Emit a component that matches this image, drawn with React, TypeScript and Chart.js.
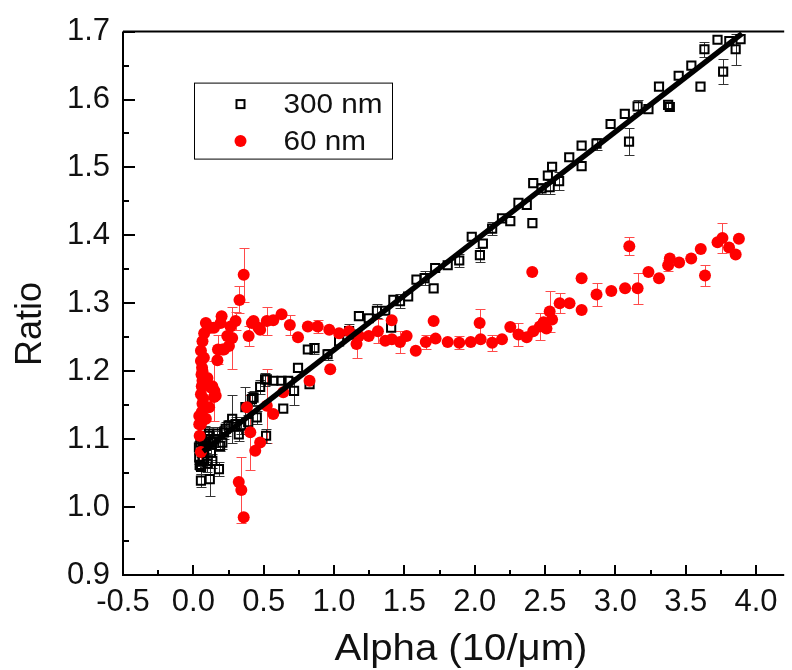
import React, { useEffect, useRef } from 'react';
import { Chart, registerables } from 'chart.js';

Chart.register(...registerables);

// ---------- Axis ticks ----------
const xTicks = [-0.5, 0, 0.5, 1.0, 1.5, 2.0, 2.5, 3.0, 3.5, 4.0];
const xTickLabels = ['-0.5', '0.0', '0.5', '1.0', '1.5', '2.0', '2.5', '3.0', '3.5', '4.0'];
const xMinorTicks = [-0.25, 0.25, 0.75, 1.25, 1.75, 2.25, 2.75, 3.25, 3.75];
const yTicks = [0.9, 1.0, 1.1, 1.2, 1.3, 1.4, 1.5, 1.6, 1.7];
const yTickLabels = ['0.9', '1.0', '1.1', '1.2', '1.3', '1.4', '1.5', '1.6', '1.7'];
const yMinorTicks = [0.95, 1.05, 1.15, 1.25, 1.35, 1.45, 1.55, 1.65];

// ---------- 300 nm (open squares) ----------
const s300X = [
  0.04, 0.042, 0.045, 0.05, 0.054, 0.055, 0.06, 0.065, 0.065, 0.07,
  0.077, 0.085, 0.089, 0.1, 0.105, 0.112, 0.117, 0.125, 0.135, 0.135,
  0.15, 0.171, 0.182, 0.19, 0.206, 0.218, 0.23, 0.25, 0.276, 0.3,
  0.323, 0.34, 0.37, 0.39, 0.416, 0.428, 0.451, 0.475, 0.51, 0.517,
  0.522, 0.568, 0.627, 0.639, 0.674, 0.716, 0.744, 0.814, 0.826, 0.861,
  0.954, 1.036, 1.107, 1.153, 1.177, 1.247, 1.305, 1.364, 1.406, 1.422,
  1.469, 1.527, 1.586, 1.644, 1.708, 1.719, 1.808, 1.89, 1.979, 2.037,
  2.058, 2.124, 2.194, 2.253, 2.311, 2.37, 2.41, 2.416, 2.475, 2.52,
  2.533, 2.55, 2.6, 2.672, 2.76, 2.76, 2.866, 2.966, 3.067, 3.097,
  3.158, 3.235, 3.31, 3.375, 3.387, 3.45, 3.54, 3.605, 3.633, 3.726,
  3.766, 3.81, 3.855, 3.89
];
const s300Y = [
  1.088, 1.073, 1.062, 1.095, 1.039, 1.059, 1.080, 1.098, 1.068, 1.085,
  1.083, 1.100, 1.090, 1.064, 1.105, 1.108, 1.041, 1.080, 1.095, 1.068,
  1.100, 1.108, 1.056, 1.090, 1.095, 1.110, 1.115, 1.120, 1.130, 1.122,
  1.107, 1.120, 1.147, 1.125, 1.159, 1.161, 1.132, 1.177, 1.188, 1.105,
  1.188, 1.186, 1.186, 1.145, 1.186, 1.171, 1.205, 1.232, 1.181, 1.234,
  1.225, 1.244, 1.259, 1.254, 1.281, 1.278, 1.289, 1.289, 1.264, 1.305,
  1.303, 1.310, 1.335, 1.337, 1.322, 1.352, 1.356, 1.363, 1.398, 1.371,
  1.388, 1.410, 1.425, 1.421, 1.448, 1.445, 1.418, 1.477, 1.469, 1.488,
  1.471, 1.501, 1.480, 1.515, 1.532, 1.502, 1.535, 1.564, 1.579, 1.538,
  1.590, 1.586, 1.619, 1.592, 1.589, 1.635, 1.650, 1.619, 1.674, 1.688,
  1.641, 1.686, 1.674, 1.689
];
const s300Err = [
  0.010, 0.010, 0.008, 0.010, 0.010, 0.010, 0.012, 0.010, 0.008, 0.010,
  0.010, 0.020, 0.010, 0.012, 0.010, 0.010, 0.025, 0.010, 0.010, 0.010,
  0.012, 0.010, 0.010, 0.008, 0.010, 0.010, 0.010, 0.008, 0.035, 0.010,
  0.010, 0.012, 0.030, 0.010, 0.010, 0.010, 0.010, 0.010, 0.010, 0.010,
  0.000, 0.000, 0.000, 0.000, 0.000, 0.020, 0.000, 0.000, 0.000, 0.008,
  0.008, 0.000, 0.010, 0.000, 0.000, 0.000, 0.010, 0.000, 0.000, 0.000,
  0.010, 0.000, 0.000, 0.010, 0.000, 0.000, 0.000, 0.010, 0.000, 0.010,
  0.000, 0.010, 0.000, 0.000, 0.000, 0.000, 0.000, 0.000, 0.008, 0.000,
  0.010, 0.000, 0.013, 0.000, 0.000, 0.000, 0.009, 0.000, 0.000, 0.020,
  0.010, 0.000, 0.000, 0.005, 0.000, 0.000, 0.000, 0.000, 0.011, 0.000,
  0.018, 0.000, 0.023, 0.000
];

// ---------- 60 nm (filled circles) ----------
const s60X = [
  0.042, 0.042, 0.045, 0.054, 0.054, 0.054, 0.054, 0.054, 0.058, 0.06,
  0.06, 0.062, 0.065, 0.065, 0.065, 0.065, 0.07, 0.075, 0.077, 0.08,
  0.089, 0.089, 0.1, 0.112, 0.124, 0.124, 0.135, 0.147, 0.147, 0.15,
  0.159, 0.171, 0.175, 0.194, 0.201, 0.206, 0.218, 0.241, 0.253, 0.265,
  0.276, 0.3, 0.323, 0.328, 0.341, 0.358, 0.358, 0.381, 0.393, 0.405,
  0.416, 0.428, 0.44, 0.463, 0.475, 0.475, 0.522, 0.522, 0.568, 0.568,
  0.627, 0.639, 0.686, 0.744, 0.814, 0.826, 0.884, 0.966, 0.973, 1.036,
  1.107, 1.16, 1.177, 1.247, 1.312, 1.364, 1.41, 1.411, 1.469, 1.516,
  1.581, 1.652, 1.708, 1.722, 1.808, 1.89, 1.972, 2.035, 2.042, 2.124,
  2.194, 2.253, 2.311, 2.37, 2.409, 2.416, 2.463, 2.49, 2.51, 2.533,
  2.55, 2.604, 2.674, 2.76, 2.76, 2.866, 2.971, 3.069, 3.099, 3.158,
  3.235, 3.31, 3.375, 3.387, 3.453, 3.539, 3.607, 3.637, 3.726, 3.761,
  3.808, 3.855, 3.878
];
const s60Y = [
  1.134, 1.122, 1.105, 1.081, 1.122, 1.166, 1.215, 1.230, 1.195, 1.140,
  1.178, 1.205, 1.244, 1.200, 1.186, 1.152, 1.160, 1.220, 1.256, 1.130,
  1.271, 1.130, 1.190, 1.147, 1.176, 1.264, 1.178, 1.162, 1.264, 1.171,
  1.164, 1.216, 1.232, 1.271, 1.281, 1.232, 1.232, 1.252, 1.237, 1.266,
  1.249, 1.274, 1.037, 1.305, 1.025, 1.342, 0.985, 1.147, 1.252, 1.110,
  1.271, 1.274, 1.083, 1.264, 1.095, 1.261, 1.149, 1.274, 1.137, 1.275,
  1.284, 1.169, 1.268, 1.250, 1.266, 1.186, 1.266, 1.261, 1.203, 1.256,
  1.259, 1.240, 1.252, 1.252, 1.259, 1.245, 1.275, 1.247, 1.243, 1.252,
  1.230, 1.243, 1.274, 1.248, 1.243, 1.242, 1.243, 1.271, 1.247, 1.242,
  1.247, 1.265, 1.254, 1.250, 1.346, 1.259, 1.266, 1.272, 1.263, 1.288,
  1.276, 1.300, 1.300, 1.337, 1.290, 1.313, 1.318, 1.322, 1.384, 1.322,
  1.346, 1.337, 1.356, 1.366, 1.360, 1.366, 1.380, 1.341, 1.390, 1.396,
  1.382, 1.372, 1.395
];
const s60Err = [
  0.000, 0.000, 0.000, 0.024, 0.000, 0.000, 0.000, 0.000, 0.000, 0.000,
  0.000, 0.000, 0.000, 0.000, 0.000, 0.000, 0.000, 0.000, 0.000, 0.000,
  0.000, 0.000, 0.000, 0.000, 0.000, 0.000, 0.000, 0.000, 0.000, 0.044,
  0.000, 0.000, 0.022, 0.000, 0.000, 0.000, 0.000, 0.000, 0.000, 0.000,
  0.045, 0.013, 0.000, 0.020, 0.048, 0.040, 0.000, 0.000, 0.015, 0.055,
  0.000, 0.000, 0.000, 0.000, 0.000, 0.000, 0.054, 0.020, 0.000, 0.000,
  0.000, 0.000, 0.015, 0.000, 0.000, 0.000, 0.010, 0.000, 0.000, 0.000,
  0.000, 0.020, 0.000, 0.000, 0.018, 0.000, 0.000, 0.000, 0.016, 0.000,
  0.000, 0.010, 0.000, 0.000, 0.000, 0.010, 0.000, 0.020, 0.000, 0.012,
  0.000, 0.000, 0.017, 0.000, 0.000, 0.000, 0.020, 0.000, 0.000, 0.030,
  0.000, 0.015, 0.000, 0.000, 0.000, 0.017, 0.000, 0.000, 0.013, 0.023,
  0.000, 0.000, 0.008, 0.000, 0.000, 0.000, 0.000, 0.015, 0.000, 0.022,
  0.000, 0.000, 0.000
];

// ---------- Linear fit line (end points) ----------
const fitX = [0.07, 3.9];
const fitY = [1.082, 1.697];

const legendLabels = ['300 nm', '60 nm'];
const xTitle = 'Alpha (10/\u03bcm)';
const yTitle = 'Ratio';

const FONT = "'Liberation Sans', Arial, Helvetica, sans-serif";

const framePlugin = {
  id: 'frame',
  beforeDatasetsDraw(chart: any) {
    const { ctx, chartArea } = chart;
    const xs = chart.scales.x;
    const ys = chart.scales.y;
    ctx.save();
    ctx.beginPath();
    ctx.rect(chartArea.left, chartArea.top, chartArea.right - chartArea.left, chartArea.bottom - chartArea.top);
    ctx.clip();
    chart.data.datasets.forEach((ds: any, di: number) => {
      if (!ds.errors) return;
      const meta = chart.getDatasetMeta(di);
      if (meta.hidden) return;
      ctx.strokeStyle = ds.errorColor;
      ctx.lineWidth = 1;
      ds.data.forEach((p: any, i: number) => {
        const e = ds.errors[i];
        if (!e) return;
        const px = Math.round(xs.getPixelForValue(p.x)) + 0.5;
        const y1 = Math.round(ys.getPixelForValue(p.y + e)) + 0.5;
        const y2 = Math.round(ys.getPixelForValue(p.y - e)) + 0.5;
        ctx.beginPath();
        ctx.moveTo(px, y1);
        ctx.lineTo(px, y2);
        ctx.moveTo(px - 5, y1);
        ctx.lineTo(px + 5, y1);
        ctx.moveTo(px - 5, y2);
        ctx.lineTo(px + 5, y2);
        ctx.stroke();
      });
    });
    ctx.restore();
  },
  afterDraw(chart: any) {
    const { ctx, chartArea } = chart;
    const xs = chart.scales.x;
    const ys = chart.scales.y;
    const { left, right, top, bottom } = chartArea;
    ctx.save();
    ctx.strokeStyle = '#000';
    ctx.lineWidth = 2;
    // axes
    ctx.beginPath();
    ctx.moveTo(left, top);
    ctx.lineTo(right, top);
    ctx.moveTo(left, top);
    ctx.lineTo(left, bottom);
    ctx.lineTo(right, bottom);
    ctx.stroke();
    // inward ticks
    ctx.beginPath();
    xTicks.forEach((v) => {
      const px = Math.round(xs.getPixelForValue(v));
      ctx.moveTo(px, bottom);
      ctx.lineTo(px, bottom - 10);
    });
    xMinorTicks.forEach((v) => {
      const px = Math.round(xs.getPixelForValue(v));
      ctx.moveTo(px, bottom);
      ctx.lineTo(px, bottom - 5);
    });
    yTicks.forEach((v) => {
      const py = Math.round(ys.getPixelForValue(v));
      ctx.moveTo(left, py);
      ctx.lineTo(left + 12, py);
    });
    yMinorTicks.forEach((v) => {
      const py = Math.round(ys.getPixelForValue(v));
      ctx.moveTo(left, py);
      ctx.lineTo(left + 6, py);
    });
    ctx.stroke();

    // axis titles
    ctx.fillStyle = '#111';
    ctx.textBaseline = 'alphabetic';
    ctx.textAlign = 'center';
    ctx.font = `37px ${FONT}`;
    ctx.save();
    ctx.translate(461, 660);
    ctx.scale(1.085, 1);
    ctx.fillText(xTitle, 0, 0);
    ctx.restore();
    ctx.save();
    ctx.translate(41, 324);
    ctx.rotate(-Math.PI / 2);
    ctx.scale(0.97, 1);
    ctx.fillText(yTitle, 0, 0);
    ctx.restore();

    // legend
    const bx = left + 71.5;
    const by = top + 51.5;
    const bw = 198;
    const bh = 76;
    ctx.fillStyle = '#fff';
    ctx.fillRect(bx, by, bw, bh);
    ctx.lineWidth = 1;
    ctx.strokeStyle = '#000';
    ctx.strokeRect(bx, by, bw, bh);
    const ds300 = chart.data.datasets[2];
    const ds60 = chart.data.datasets[1];
    const mx = bx + 46;
    const row1 = by + 21;
    const row2 = by + 58;
    ctx.lineWidth = 2;
    ctx.strokeStyle = ds300.borderColor;
    ctx.strokeRect(mx - 4, row1 - 4, 8, 8);
    ctx.fillStyle = ds60.backgroundColor;
    ctx.beginPath();
    ctx.arc(mx, row2, 6, 0, Math.PI * 2);
    ctx.fill();
    ctx.fillStyle = '#111';
    ctx.font = `27px ${FONT}`;
    ctx.textAlign = 'left';
    ctx.textBaseline = 'middle';
    ctx.save();
    ctx.translate(bx + 89, row1 + 1);
    ctx.scale(1.1, 1);
    ctx.fillText(legendLabels[0], 0, 0);
    ctx.restore();
    ctx.save();
    ctx.translate(bx + 89, row2 + 1);
    ctx.scale(1.1, 1);
    ctx.fillText(legendLabels[1], 0, 0);
    ctx.restore();
    ctx.restore();
  },
};

export default function App() {
  const canvasRef = useRef<HTMLCanvasElement | null>(null);

  useEffect(() => {
    const canvas = canvasRef.current;
    if (!canvas) return;
    const chart = new Chart(canvas, {
      type: 'scatter',
      data: {
        datasets: [
          {
            label: 'fit',
            data: fitX.map((x, i) => ({ x, y: fitY[i] })),
            showLine: true,
            borderColor: '#000',
            borderWidth: 5.5,
            pointRadius: 0,
            fill: false,
          },
          {
            label: legendLabels[1],
            data: s60X.map((x, i) => ({ x, y: s60Y[i] })),
            pointStyle: 'circle',
            pointRadius: 6,
            backgroundColor: '#ff0000',
            borderColor: '#ff0000',
            borderWidth: 0,
            errors: s60Err,
            errorColor: '#ff4a4a',
          } as any,
          {
            label: legendLabels[0],
            data: s300X.map((x, i) => ({ x, y: s300Y[i] })),
            pointStyle: 'rect',
            pointRadius: 5.8,
            backgroundColor: 'rgba(0,0,0,0)',
            borderColor: '#000',
            borderWidth: 2,
            errors: s300Err,
            errorColor: '#333',
          } as any,
        ],
      },
      options: {
        responsive: false,
        animation: false,
        events: [],
        layout: { padding: { top: 29, right: 0, left: 0, bottom: 0 } },
        plugins: {
          legend: { display: false },
          tooltip: { enabled: false },
        },
        scales: {
          x: {
            type: 'linear',
            min: -0.5,
            max: 4.2,
            afterBuildTicks: (scale: any) => {
              scale.ticks = xTicks.map((v) => ({ value: v }));
            },
            afterFit: (scale: any) => {
              scale.height = 95;
            },
            grid: { display: false, drawTicks: false },
            border: { display: false },
            ticks: {
              color: '#111',
              padding: 9,
              maxRotation: 0,
              autoSkip: false,
              font: { family: FONT, size: 31 },
              callback: (v: any) => {
                const i = xTicks.findIndex((t) => Math.abs(t - Number(v)) < 1e-9);
                return i >= 0 ? xTickLabels[i] : '';
              },
            },
            title: { display: false },
          },
          y: {
            type: 'linear',
            min: 0.9,
            max: 1.7,
            afterBuildTicks: (scale: any) => {
              scale.ticks = yTicks.map((v) => ({ value: v }));
            },
            afterFit: (scale: any) => {
              scale.width = 123;
            },
            grid: { display: false, drawTicks: false },
            border: { display: false },
            ticks: {
              color: '#111',
              padding: 13,
              autoSkip: false,
              font: { family: FONT, size: 31 },
              callback: (v: any) => {
                const i = yTicks.findIndex((t) => Math.abs(t - Number(v)) < 1e-9);
                return i >= 0 ? yTickLabels[i] : '';
              },
            },
            title: { display: false },
          },
        },
      },
      plugins: [framePlugin],
    } as any);
    return () => chart.destroy();
  }, []);

  return (
    <div style={{ position: 'absolute', left: 0, top: 0, width: 792, height: 670, background: '#fff' }}>
      <canvas ref={canvasRef} width={792} height={670} style={{ display: 'block' }} />
    </div>
  );
}
